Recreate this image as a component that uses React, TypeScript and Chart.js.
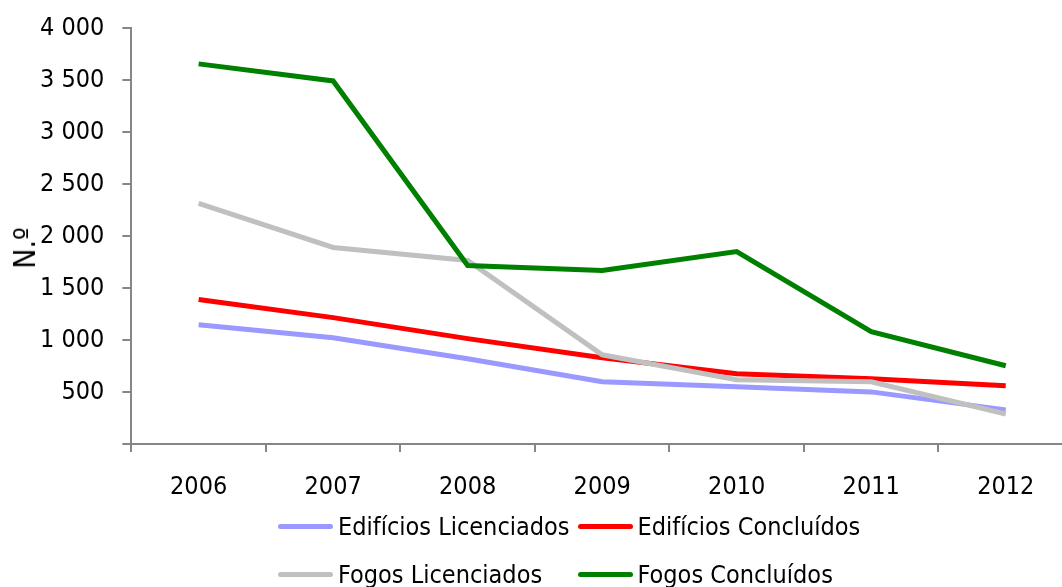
import React, { useEffect, useRef } from "react";
import { Chart, registerables } from "chart.js";

Chart.register(...registerables);

const categories = ["2006", "2007", "2008", "2009", "2010", "2011", "2012"];
const edificiosLicenciados = [1147, 1022, 820, 598, 550, 501, 328];
const edificiosConcluidos = [1389, 1215, 1013, 829, 675, 627, 559];
const fogosLicenciados = [2314, 1890, 1765, 858, 617, 598, 289];
const fogosConcluidos = [3655, 3491, 1716, 1668, 1851, 1080, 752];
const yTickLabels = ["", "500", "1 000", "1 500", "2 000", "2 500", "3 000", "3 500", "4 000"];
const yTitle = "N.º";
const seriesNames = ["Edifícios Licenciados", "Edifícios Concluídos", "Fogos Licenciados", "Fogos Concluídos"];
const seriesColors = ["#9999FF", "#FF0000", "#C0C0C0", "#008000"];

const FONT = "'DejaVu Sans Condensed', 'DejaVu Sans', sans-serif";
const AXIS = "#868686";

export default function App() {
  const ref = useRef<HTMLCanvasElement | null>(null);

  useEffect(() => {
    if (!ref.current) return;
    const seriesData = [edificiosLicenciados, edificiosConcluidos, fogosLicenciados, fogosConcluidos];
    const chart = new Chart(ref.current, {
      type: "line",
      data: {
        labels: categories,
        datasets: seriesData.map((d, i) => ({
          label: seriesNames[i],
          data: d,
          borderColor: seriesColors[i],
          backgroundColor: seriesColors[i],
          borderWidth: 5,
          pointRadius: 0,
          tension: 0,
          fill: false,
          order: 3 - i,
        })),
      },
      options: {
        responsive: false,
        animation: false,
        layout: { padding: { left: 22, right: 1, top: 8, bottom: 65 } },
        plugins: {
          legend: { display: false },
          tooltip: { enabled: false },
        },
        scales: {
          x: {
            offset: true,
            grid: {
              offset: true,
              drawOnChartArea: false,
              tickLength: 8,
              color: AXIS,
              lineWidth: 2,
            },
            border: { color: AXIS, width: 2 },
            ticks: {
              color: "#000",
              font: { family: FONT, size: 25 },
              padding: 20,
              maxRotation: 0,
            },
          },
          y: {
            min: 0,
            max: 4000,
            grid: {
              drawOnChartArea: false,
              tickLength: 9,
              color: AXIS,
              lineWidth: 2,
            },
            border: { color: AXIS, width: 2 },
            ticks: {
              stepSize: 500,
              color: "#000",
              font: { family: FONT, size: 25, lineHeight: 0.8 },
              padding: 18,
              callback: (_v: any, i: number) => yTickLabels[i],
            },
          },
        },
      },
    });
    return () => chart.destroy();
  }, []);

  return (
    <div style={{ position: "absolute", left: 0, top: 0, width: 1062, height: 587, overflow: "hidden", background: "#fff" }}>
      <canvas ref={ref} width={1074} height={587} style={{ position: "absolute", left: 0, top: 0 }} />
      <div
        style={{
          position: "absolute",
          left: 25,
          top: 248,
          transform: "translate(-50%, -50%) rotate(-90deg)",
          whiteSpace: "nowrap",
          fontFamily: FONT,
          fontSize: 30,
          lineHeight: "30px",
          color: "#000",
        }}
      >
        {yTitle}
      </div>
      <div
        style={{
          position: "absolute",
          left: 278,
          top: 502,
          display: "grid",
          gridTemplateColumns: "auto auto",
          columnGap: 8,
          fontFamily: FONT,
          fontSize: 25,
          color: "#000",
        }}
      >
        {seriesNames.map((n, i) => (
          <div key={n} style={{ display: "flex", alignItems: "center", height: 48, whiteSpace: "nowrap" }}>
            <span style={{ display: "inline-block", width: 55, height: 5, borderRadius: 3, background: seriesColors[i], marginRight: 5 }} />
            <span>{n}</span>
          </div>
        ))}
      </div>
    </div>
  );
}
